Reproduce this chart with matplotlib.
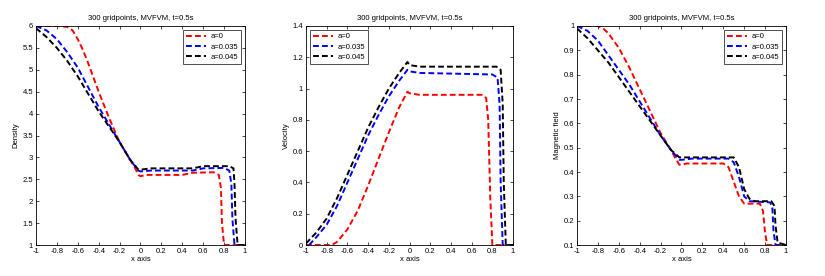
import matplotlib
matplotlib.use("Agg")
import matplotlib.pyplot as plt

# a = 0, 0.035, 0.045 curves at t = 0.5s
dens_red_x = [-1, -0.8, -0.7, -0.65, -0.6, -0.55, -0.5, -0.4, -0.3, -0.2, -0.1, -0.05, -0.02, 0, 0.05, 0.4, 0.5, 0.7, 0.75, 0.77, 0.78, 0.8, 1]
dens_red_y = [6, 6, 5.98, 5.9, 5.7, 5.45, 5.15, 4.5, 3.9, 3.35, 2.95, 2.75, 2.6, 2.57, 2.6, 2.6, 2.65, 2.66, 2.6, 2.3, 1.5, 1.0, 1]
dens_blue_x = [-1, -0.9, -0.8, -0.7, -0.6, -0.5, -0.4, -0.3, -0.2, -0.1, -0.02, 0, 0.1, 0.5, 0.6, 0.8, 0.85, 0.87, 0.88, 0.9, 1]
dens_blue_y = [6, 5.9, 5.7, 5.4, 5.05, 4.6, 4.15, 3.75, 3.35, 2.95, 2.7, 2.68, 2.7, 2.7, 2.75, 2.76, 2.7, 2.4, 1.6, 1.0, 1]
dens_black_x = [-1, -0.9, -0.8, -0.7, -0.6, -0.5, -0.4, -0.3, -0.2, -0.1, -0.02, 0, 0.1, 0.5, 0.6, 0.85, 0.89, 0.9, 0.91, 0.93, 1]
dens_black_y = [5.95, 5.75, 5.5, 5.2, 4.85, 4.45, 4.05, 3.7, 3.35, 2.95, 2.72, 2.72, 2.75, 2.75, 2.8, 2.8, 2.75, 2.4, 1.6, 1.0, 1]

vel_red_x = [-1, -0.75, -0.7, -0.6, -0.5, -0.4, -0.3, -0.2, -0.1, -0.02, 0, 0.1, 0.7, 0.74, 0.76, 0.78, 0.8, 1]
vel_red_y = [0, 0, 0.02, 0.1, 0.22, 0.38, 0.55, 0.72, 0.88, 0.98, 0.97, 0.96, 0.96, 0.94, 0.8, 0.3, 0, 0]
vel_blue_x = [-0.97, -0.9, -0.8, -0.7, -0.6, -0.5, -0.4, -0.3, -0.2, -0.1, -0.02, 0, 0.1, 0.8, 0.85, 0.87, 0.88, 0.9, 1]
vel_blue_y = [0, 0.05, 0.13, 0.25, 0.4, 0.55, 0.7, 0.83, 0.95, 1.05, 1.12, 1.11, 1.1, 1.09, 1.07, 0.9, 0.4, 0, 0]
vel_black_x = [-1, -0.9, -0.8, -0.7, -0.6, -0.5, -0.4, -0.3, -0.2, -0.1, -0.02, 0, 0.1, 0.84, 0.88, 0.9, 0.91, 0.93, 1]
vel_black_y = [0.01, 0.08, 0.17, 0.3, 0.45, 0.6, 0.75, 0.88, 1.0, 1.1, 1.17, 1.15, 1.14, 1.14, 1.12, 0.9, 0.4, 0, 0]

mag_red_x = [-1, -0.8, -0.75, -0.7, -0.6, -0.5, -0.4, -0.3, -0.2, -0.1, -0.05, -0.02, 0, 0.05, 0.4, 0.45, 0.5, 0.55, 0.6, 0.75, 0.78, 0.8, 0.82, 1]
mag_red_y = [1, 1, 0.99, 0.97, 0.91, 0.83, 0.74, 0.65, 0.56, 0.49, 0.45, 0.43, 0.43, 0.435, 0.435, 0.42, 0.36, 0.3, 0.27, 0.27, 0.24, 0.15, 0.1, 0.1]
mag_blue_x = [-1, -0.9, -0.8, -0.7, -0.6, -0.5, -0.4, -0.3, -0.2, -0.1, -0.02, 0, 0.1, 0.45, 0.5, 0.55, 0.6, 0.65, 0.85, 0.87, 0.88, 0.9, 1]
mag_blue_y = [1, 0.98, 0.94, 0.88, 0.82, 0.76, 0.69, 0.62, 0.55, 0.49, 0.45, 0.45, 0.455, 0.455, 0.44, 0.38, 0.3, 0.28, 0.275, 0.25, 0.16, 0.1, 0.1]
mag_black_x = [-1, -0.9, -0.8, -0.7, -0.6, -0.5, -0.4, -0.3, -0.2, -0.1, -0.02, 0, 0.1, 0.5, 0.55, 0.6, 0.65, 0.7, 0.86, 0.89, 0.9, 0.92, 1]
mag_black_y = [0.99, 0.95, 0.9, 0.85, 0.79, 0.73, 0.67, 0.61, 0.55, 0.49, 0.46, 0.46, 0.46, 0.46, 0.42, 0.33, 0.29, 0.28, 0.28, 0.26, 0.18, 0.11, 0.1]

labels = ["a=0", "a=0.035", "a=0.045"]
colors = ["red", "blue", "black"]
title = "300 gridpoints, MVFVM, t=0.5s"

panels = [
    ("Density", (1, 6), [1, 1.5, 2, 2.5, 3, 3.5, 4, 4.5, 5, 5.5, 6], "upper right",
     [(dens_red_x, dens_red_y), (dens_blue_x, dens_blue_y), (dens_black_x, dens_black_y)]),
    ("Velocity", (0, 1.4), [0, 0.2, 0.4, 0.6, 0.8, 1, 1.2, 1.4], "upper left",
     [(vel_red_x, vel_red_y), (vel_blue_x, vel_blue_y), (vel_black_x, vel_black_y)]),
    ("Magnetic field", (0.1, 1), [0.1, 0.2, 0.3, 0.4, 0.5, 0.6, 0.7, 0.8, 0.9, 1], "upper right",
     [(mag_red_x, mag_red_y), (mag_blue_x, mag_blue_y), (mag_black_x, mag_black_y)]),
]

plt.rcParams["font.family"] = "Liberation Sans"
fig = plt.figure(figsize=(8.25, 2.76), dpi=100)
lefts = [0.0436, 0.3709, 0.6994]
widths = [0.2533, 0.251, 0.2533]
xticks = [-1, -0.8, -0.6, -0.4, -0.2, 0, 0.2, 0.4, 0.6, 0.8, 1]

for (ylab, ylim, yticks, loc, series), left, w in zip(panels, lefts, widths):
    ax = fig.add_axes([left, 0.1123, w, 0.7935])
    for (x, y), c, lab in zip(series, colors, labels):
        ax.plot(x, y, color=c, ls=(0, (3, 1.6)), lw=1.4, label=lab)
    ax.set_xlim(-1, 1)
    ax.set_ylim(*ylim)
    ax.set_xticks(xticks)
    ax.set_xticklabels(["%g" % t for t in xticks])
    ax.set_yticks(yticks)
    ax.set_yticklabels(["%g" % t for t in yticks])
    ax.tick_params(direction="in", top=True, right=True, labelsize=5.5, length=2.5, width=0.5, pad=2)
    for s in ax.spines.values():
        s.set_linewidth(0.6)
    ax.set_title(title, fontsize=5.5, pad=4)
    ax.set_xlabel("x axis", fontsize=5.5, labelpad=1)
    ax.set_ylabel(ylab, fontsize=5.5, labelpad=2)
    leg = ax.legend(loc=loc, fontsize=5.5, fancybox=False, edgecolor="black",
                    handlelength=2.6, borderpad=0.4, labelspacing=0.4, handletextpad=0.6)
    leg.get_frame().set_linewidth(0.6)

fig.savefig("out.png", dpi=100)
